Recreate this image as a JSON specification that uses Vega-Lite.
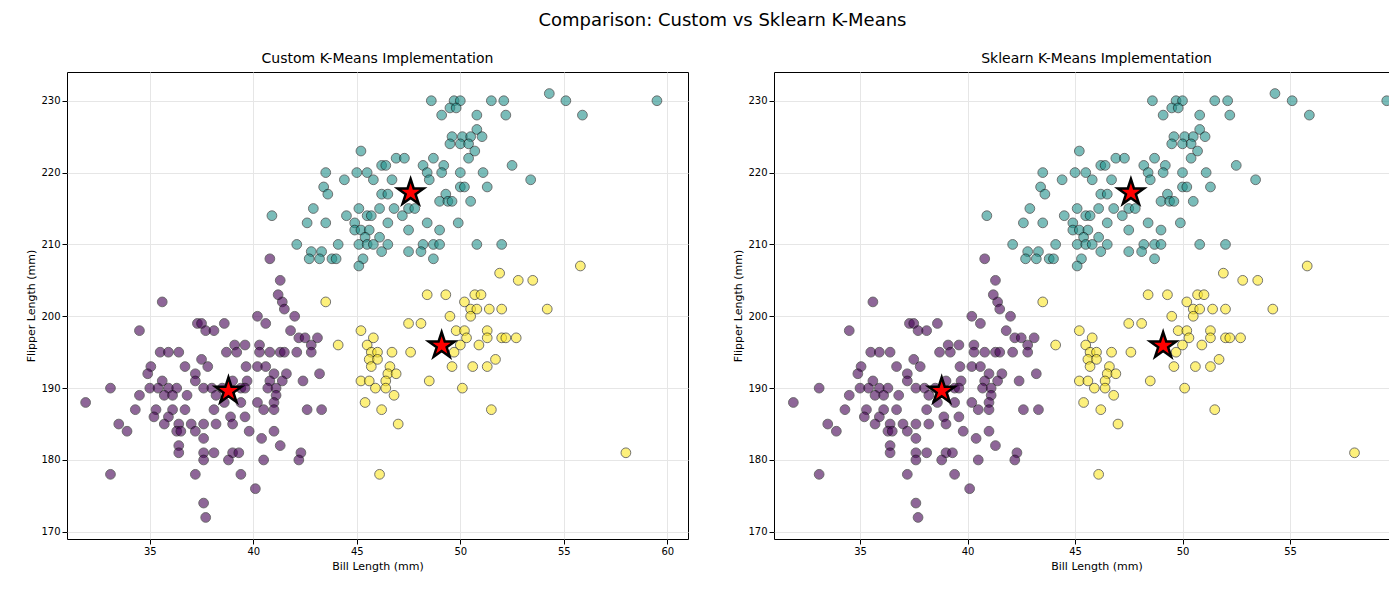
{
"$schema":"https://vega.github.io/schema/vega-lite/v6.json",
"background":"white",
"padding":{"left":25,"top":11,"right":10,"bottom":5},
"title":{"text":"Comparison: Custom vs Sklearn K-Means","fontSize":18,"font":"DejaVu Sans","fontWeight":"normal","anchor":"middle","offset":22},
"config":{"font":"DejaVu Sans","view":{"stroke":"black"},"axis":{"grid":true,"gridColor":"#e6e6e6","domain":false,"tickColor":"black","labelColor":"black","labelFontSize":10,"titleFontSize":11,"titleFontWeight":"normal","labelFont":"DejaVu Sans","titleFont":"DejaVu Sans"},"concat":{"spacing":43}},
"datasets":{
"pts":[
{"x":35.6,"y":202,"c":0},{"x":41.4,"y":202,"c":0},{"x":41.5,"y":201,"c":0},{"x":40.2,"y":200,"c":0},{"x":42.0,"y":200,"c":0},
{"x":37.3,"y":199,"c":0},{"x":37.5,"y":199,"c":0},{"x":38.6,"y":199,"c":0},{"x":40.6,"y":199,"c":0},
{"x":34.5,"y":198,"c":0},{"x":37.7,"y":198,"c":0},{"x":38.1,"y":198,"c":0},{"x":41.8,"y":198,"c":0},
{"x":42.2,"y":197,"c":0},{"x":42.5,"y":197,"c":0},{"x":43.1,"y":197,"c":0},
{"x":39.1,"y":196,"c":0},{"x":39.6,"y":196,"c":0},{"x":40.3,"y":196,"c":0},{"x":42.8,"y":196,"c":0},
{"x":35.5,"y":195,"c":0},{"x":35.9,"y":195,"c":0},{"x":36.4,"y":195,"c":0},{"x":38.7,"y":195,"c":0},{"x":39.2,"y":195,"c":0},{"x":40.3,"y":195,"c":0},{"x":40.8,"y":195,"c":0},{"x":41.3,"y":195,"c":0},{"x":41.5,"y":195,"c":0},{"x":42.1,"y":195,"c":0},{"x":42.8,"y":195,"c":0},
{"x":37.5,"y":194,"c":0},
{"x":35.05,"y":193,"c":0},{"x":36.7,"y":193,"c":0},{"x":37.8,"y":193,"c":0},{"x":39.65,"y":193,"c":0},{"x":40.2,"y":193,"c":0},{"x":40.6,"y":193,"c":0},{"x":43.2,"y":192,"c":0},
{"x":34.9,"y":192,"c":0},{"x":37.2,"y":192,"c":0},{"x":41.0,"y":192,"c":0},{"x":41.6,"y":192,"c":0},
{"x":35.6,"y":191,"c":0},{"x":37.2,"y":191,"c":0},{"x":39.0,"y":191,"c":0},{"x":39.7,"y":191,"c":0},{"x":40.8,"y":191,"c":0},{"x":41.4,"y":191,"c":0},{"x":42.4,"y":191,"c":0},
{"x":33.1,"y":190,"c":0},{"x":35.0,"y":190,"c":0},{"x":35.4,"y":190,"c":0},{"x":35.9,"y":190,"c":0},{"x":36.3,"y":190,"c":0},{"x":37.6,"y":190,"c":0},{"x":38.0,"y":190,"c":0},{"x":38.5,"y":190,"c":0},{"x":39.4,"y":190,"c":0},{"x":39.6,"y":190,"c":0},{"x":40.7,"y":190,"c":0},{"x":41.1,"y":190,"c":0},
{"x":34.5,"y":189,"c":0},{"x":35.7,"y":189,"c":0},{"x":36.1,"y":189,"c":0},{"x":36.8,"y":189,"c":0},{"x":38.2,"y":189,"c":0},{"x":41.1,"y":189,"c":0},
{"x":31.9,"y":188,"c":0},{"x":39.4,"y":188,"c":0},{"x":40.2,"y":188,"c":0},{"x":41.0,"y":188,"c":0},{"x":38.6,"y":188,"c":0},
{"x":34.3,"y":187,"c":0},{"x":35.3,"y":187,"c":0},{"x":36.1,"y":187,"c":0},{"x":36.7,"y":187,"c":0},{"x":38.1,"y":187,"c":0},{"x":40.5,"y":187,"c":0},{"x":41.0,"y":187,"c":0},{"x":43.3,"y":187,"c":0},{"x":42.6,"y":187,"c":0},
{"x":35.2,"y":186,"c":0},{"x":35.9,"y":186,"c":0},{"x":38.9,"y":186,"c":0},{"x":39.6,"y":186,"c":0},
{"x":36.4,"y":185,"c":0},{"x":37.0,"y":185,"c":0},{"x":37.6,"y":185,"c":0},{"x":38.2,"y":185,"c":0},{"x":39.0,"y":185,"c":0},{"x":33.5,"y":185,"c":0},{"x":35.7,"y":185,"c":0},
{"x":33.9,"y":184,"c":0},{"x":36.3,"y":184,"c":0},{"x":36.5,"y":184,"c":0},{"x":37.2,"y":184,"c":0},{"x":39.8,"y":184,"c":0},{"x":41.0,"y":184,"c":0},{"x":40.4,"y":183,"c":0},{"x":37.6,"y":183,"c":0},
{"x":36.4,"y":182,"c":0},{"x":41.3,"y":182,"c":0},
{"x":36.4,"y":181,"c":0},{"x":37.6,"y":181,"c":0},{"x":38.1,"y":181,"c":0},{"x":39.0,"y":181,"c":0},{"x":39.3,"y":181,"c":0},{"x":42.3,"y":181,"c":0},
{"x":37.6,"y":180,"c":0},{"x":38.8,"y":180,"c":0},{"x":40.5,"y":180,"c":0},{"x":42.2,"y":180,"c":0},
{"x":33.1,"y":178,"c":0},{"x":37.2,"y":178,"c":0},{"x":39.4,"y":178,"c":0},{"x":40.1,"y":176,"c":0},{"x":37.6,"y":174,"c":0},{"x":37.7,"y":172,"c":0},
{"x":40.8,"y":208,"c":0},{"x":41.3,"y":205,"c":0},{"x":41.2,"y":203,"c":0},
{"x":48.6,"y":230,"c":1},{"x":49.7,"y":230,"c":1},{"x":50.0,"y":230,"c":1},{"x":51.5,"y":230,"c":1},{"x":52.1,"y":230,"c":1},{"x":54.3,"y":231,"c":1},{"x":55.1,"y":230,"c":1},{"x":55.9,"y":228,"c":1},{"x":59.5,"y":230,"c":1},
{"x":49.1,"y":228,"c":1},{"x":49.5,"y":229,"c":1},{"x":49.8,"y":229,"c":1},{"x":50.8,"y":228,"c":1},{"x":52.2,"y":228,"c":1},{"x":50.8,"y":226,"c":1},
{"x":49.6,"y":225,"c":1},{"x":50.1,"y":225,"c":1},{"x":50.5,"y":225,"c":1},{"x":51.05,"y":225,"c":1},
{"x":49.5,"y":224,"c":1},{"x":50.0,"y":224,"c":1},{"x":50.4,"y":224,"c":1},{"x":50.7,"y":223,"c":1},{"x":50.4,"y":222,"c":1},{"x":45.2,"y":223,"c":1},
{"x":46.9,"y":222,"c":1},{"x":47.3,"y":222,"c":1},{"x":48.7,"y":222,"c":1},
{"x":46.2,"y":221,"c":1},{"x":46.4,"y":221,"c":1},{"x":48.2,"y":221,"c":1},{"x":49.2,"y":221,"c":1},{"x":52.5,"y":221,"c":1},
{"x":43.5,"y":220,"c":1},{"x":45.0,"y":220,"c":1},{"x":45.5,"y":220,"c":1},{"x":48.4,"y":220,"c":1},{"x":49.1,"y":220,"c":1},{"x":50.0,"y":220,"c":1},{"x":51.1,"y":220,"c":1},
{"x":44.4,"y":219,"c":1},{"x":45.8,"y":219,"c":1},{"x":46.7,"y":219,"c":1},{"x":48.5,"y":219,"c":1},{"x":53.4,"y":219,"c":1},
{"x":43.4,"y":218,"c":1},{"x":50.0,"y":218,"c":1},{"x":50.2,"y":218,"c":1},{"x":51.3,"y":218,"c":1},
{"x":43.6,"y":217,"c":1},{"x":46.2,"y":217,"c":1},{"x":46.5,"y":217,"c":1},{"x":49.3,"y":217,"c":1},
{"x":49.0,"y":216,"c":1},{"x":49.4,"y":216,"c":1},{"x":49.6,"y":216,"c":1},{"x":50.5,"y":216,"c":1},
{"x":42.9,"y":215,"c":1},{"x":45.1,"y":215,"c":1},{"x":46.1,"y":215,"c":1},{"x":46.8,"y":215,"c":1},{"x":47.5,"y":215,"c":1},{"x":47.8,"y":215,"c":1},
{"x":44.5,"y":214,"c":1},{"x":45.5,"y":214,"c":1},{"x":45.7,"y":214,"c":1},{"x":47.2,"y":214,"c":1},{"x":40.9,"y":214,"c":1},
{"x":42.6,"y":213,"c":1},{"x":43.5,"y":213,"c":1},{"x":44.9,"y":213,"c":1},{"x":46.5,"y":213,"c":1},{"x":48.4,"y":213,"c":1},{"x":49.9,"y":213,"c":1},
{"x":44.9,"y":212,"c":1},{"x":45.2,"y":212,"c":1},{"x":45.6,"y":212,"c":1},{"x":47.5,"y":212,"c":1},{"x":49.0,"y":212,"c":1},
{"x":46.1,"y":211,"c":1},{"x":45.4,"y":211,"c":1},
{"x":42.1,"y":210,"c":1},{"x":44.1,"y":210,"c":1},{"x":45.1,"y":210,"c":1},{"x":45.5,"y":210,"c":1},{"x":45.8,"y":210,"c":1},{"x":46.5,"y":210,"c":1},{"x":48.2,"y":210,"c":1},{"x":48.7,"y":210,"c":1},{"x":49.0,"y":210,"c":1},{"x":50.8,"y":210,"c":1},{"x":52.0,"y":210,"c":1},
{"x":42.8,"y":209,"c":1},{"x":43.3,"y":209,"c":1},{"x":46.2,"y":209,"c":1},{"x":47.5,"y":209,"c":1},{"x":48.1,"y":209,"c":1},
{"x":42.7,"y":208,"c":1},{"x":43.2,"y":208,"c":1},{"x":43.8,"y":208,"c":1},{"x":44.0,"y":208,"c":1},{"x":45.3,"y":208,"c":1},{"x":48.7,"y":208,"c":1},{"x":45.1,"y":207,"c":1},
{"x":55.8,"y":207,"c":2},{"x":51.9,"y":206,"c":2},{"x":52.8,"y":205,"c":2},{"x":53.5,"y":205,"c":2},
{"x":48.4,"y":203,"c":2},{"x":49.3,"y":203,"c":2},{"x":50.7,"y":203,"c":2},{"x":51.0,"y":203,"c":2},{"x":50.2,"y":202,"c":2},{"x":43.5,"y":202,"c":2},
{"x":50.5,"y":201,"c":2},{"x":50.8,"y":201,"c":2},{"x":51.4,"y":201,"c":2},{"x":52.0,"y":201,"c":2},{"x":54.2,"y":201,"c":2},
{"x":49.5,"y":200,"c":2},{"x":50.5,"y":200,"c":2},{"x":47.5,"y":199,"c":2},{"x":48.1,"y":199,"c":2},
{"x":45.2,"y":198,"c":2},{"x":49.8,"y":198,"c":2},{"x":50.2,"y":198,"c":2},{"x":51.3,"y":198,"c":2},
{"x":45.8,"y":197,"c":2},{"x":50.3,"y":197,"c":2},{"x":51.3,"y":197,"c":2},{"x":52.0,"y":197,"c":2},{"x":52.2,"y":197,"c":2},{"x":52.7,"y":197,"c":2},
{"x":44.1,"y":196,"c":2},{"x":45.5,"y":196,"c":2},{"x":50.0,"y":196,"c":2},{"x":50.9,"y":196,"c":2},
{"x":45.7,"y":195,"c":2},{"x":46.0,"y":195,"c":2},{"x":46.7,"y":195,"c":2},{"x":47.6,"y":195,"c":2},{"x":49.7,"y":195,"c":2},
{"x":45.6,"y":194,"c":2},{"x":46.0,"y":194,"c":2},{"x":51.7,"y":194,"c":2},
{"x":45.7,"y":193,"c":2},{"x":46.6,"y":193,"c":2},{"x":49.6,"y":193,"c":2},{"x":50.6,"y":193,"c":2},{"x":51.3,"y":193,"c":2},
{"x":46.5,"y":192,"c":2},{"x":46.9,"y":192,"c":2},
{"x":45.2,"y":191,"c":2},{"x":45.6,"y":191,"c":2},{"x":46.4,"y":191,"c":2},{"x":48.5,"y":191,"c":2},
{"x":45.9,"y":190,"c":2},{"x":46.4,"y":190,"c":2},{"x":50.1,"y":190,"c":2},{"x":46.8,"y":189,"c":2},{"x":45.4,"y":188,"c":2},
{"x":46.2,"y":187,"c":2},{"x":51.5,"y":187,"c":2},{"x":47.0,"y":185,"c":2},{"x":58.0,"y":181,"c":2},{"x":46.1,"y":178,"c":2}
],
"cent":[{"x":38.8,"y":189.6},{"x":47.6,"y":217.2},{"x":49.1,"y":195.9}]
},
"hconcat":[
{"title":{"text":"Custom K-Means Implementation","fontSize":14,"fontWeight":"normal","font":"DejaVu Sans","offset":6},
"width":621,"height":467,
"layer":[
{"data":{"name":"pts"},"mark":{"type":"point","filled":true,"size":95,"opacity":0.6,"stroke":"black","strokeWidth":1,"strokeOpacity":0.9},
"encoding":{"x":{"field":"x","type":"quantitative","scale":{"domain":[31,61],"nice":false},"title":"Bill Length (mm)","axis":{"values":[35,40,45,50,55,60]}},
"y":{"field":"y","type":"quantitative","scale":{"domain":[169,234],"nice":false},"title":"Flipper Length (mm)","axis":{"values":[170,180,190,200,210,220,230]}},
"color":{"field":"c","type":"nominal","scale":{"domain":[0,1,2],"range":["#440154","#21918c","#fde725"]},"legend":null}}},
{"data":{"name":"cent"},"mark":{"type":"point","filled":true,"size":750,"fill":"red","stroke":"black","strokeWidth":2.5,"opacity":1,"shape":"M0,-1L0.2245,-0.309L0.951,-0.309L0.363,0.118L0.588,0.809L0,0.382L-0.588,0.809L-0.363,0.118L-0.951,-0.309L-0.2245,-0.309Z"},
"encoding":{"x":{"field":"x","type":"quantitative"},"y":{"field":"y","type":"quantitative"}}}
]},
{"title":{"text":"Sklearn K-Means Implementation","fontSize":14,"fontWeight":"normal","font":"DejaVu Sans","offset":6},
"width":645,"height":467,
"layer":[
{"data":{"name":"pts"},"mark":{"type":"point","filled":true,"size":95,"opacity":0.6,"stroke":"black","strokeWidth":1,"strokeOpacity":0.9},
"encoding":{"x":{"field":"x","type":"quantitative","scale":{"domain":[31,61],"nice":false},"title":"Bill Length (mm)","axis":{"values":[35,40,45,50,55,60]}},
"y":{"field":"y","type":"quantitative","scale":{"domain":[169,234],"nice":false},"title":"Flipper Length (mm)","axis":{"values":[170,180,190,200,210,220,230]}},
"color":{"field":"c","type":"nominal","scale":{"domain":[0,1,2],"range":["#440154","#21918c","#fde725"]},"legend":null}}},
{"data":{"name":"cent"},"mark":{"type":"point","filled":true,"size":750,"fill":"red","stroke":"black","strokeWidth":2.5,"opacity":1,"shape":"M0,-1L0.2245,-0.309L0.951,-0.309L0.363,0.118L0.588,0.809L0,0.382L-0.588,0.809L-0.363,0.118L-0.951,-0.309L-0.2245,-0.309Z"},
"encoding":{"x":{"field":"x","type":"quantitative"},"y":{"field":"y","type":"quantitative"}}}
]}
]
}
